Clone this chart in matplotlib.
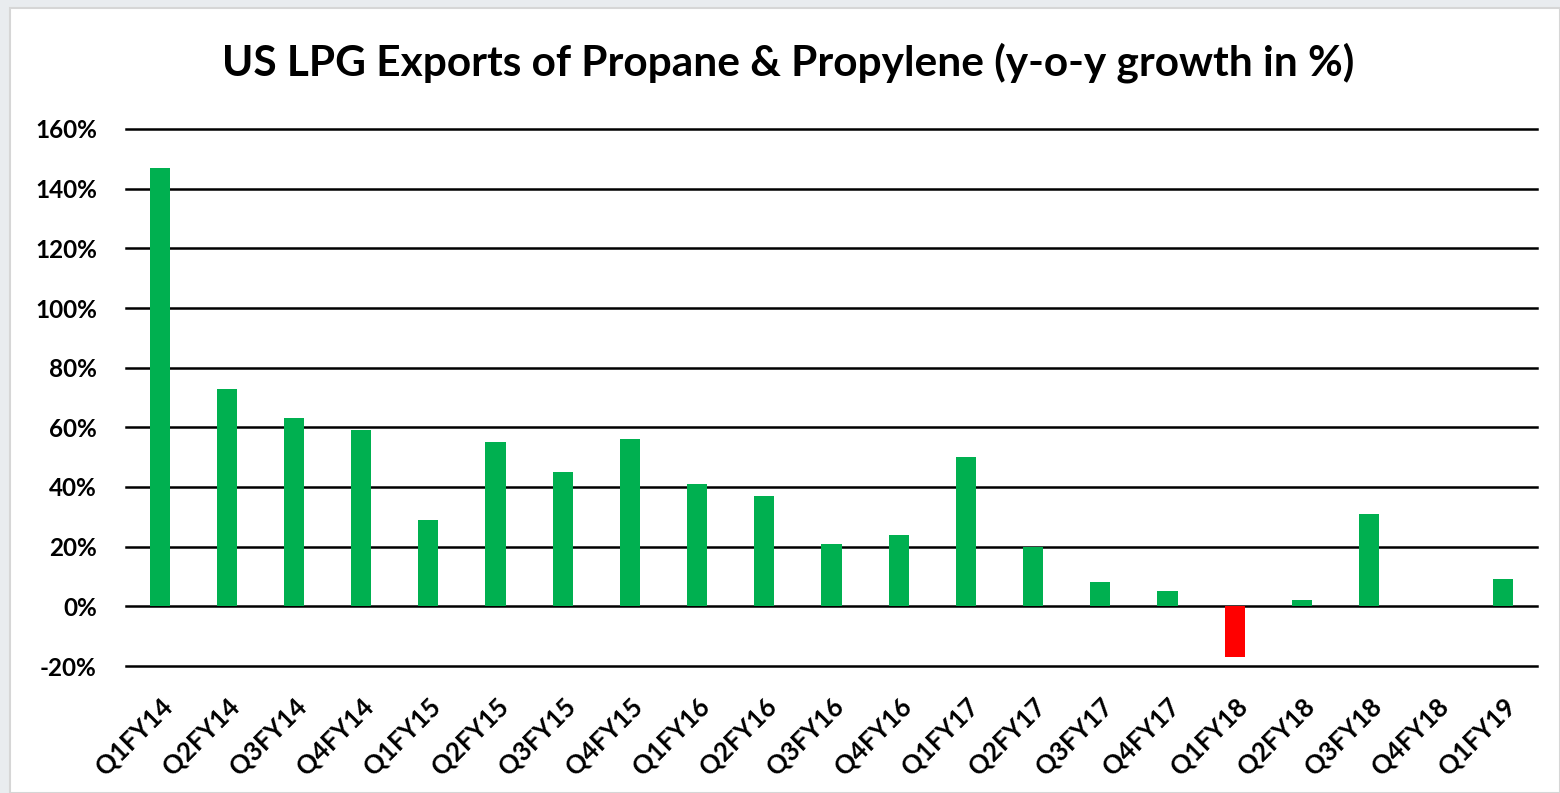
import matplotlib.pyplot as plt
import matplotlib.patches as mpatches
from matplotlib.ticker import FuncFormatter

quarters = ["Q1FY14", "Q2FY14", "Q3FY14", "Q4FY14", "Q1FY15", "Q2FY15", "Q3FY15",
            "Q4FY15", "Q1FY16", "Q2FY16", "Q3FY16", "Q4FY16", "Q1FY17", "Q2FY17",
            "Q3FY17", "Q4FY17", "Q1FY18", "Q2FY18", "Q3FY18", "Q4FY18", "Q1FY19"]
growth = [147, 73, 63, 59, 29, 55, 45, 56, 41, 37, 21, 24, 50, 20, 8, 5, -17, 2, 31, 0, 9]
yticks = [-20, 0, 20, 40, 60, 80, 100, 120, 140, 160]

plt.rcParams['font.family'] = ['Lato', 'DejaVu Sans']

fig = plt.figure(figsize=(15.6, 7.93), dpi=100)
fig.patch.set_facecolor("#e9ecef")
# white chart panel behind everything
panel = mpatches.Rectangle((10/1560, 0), 1 - 10/1560, 1 - 8/793, transform=fig.transFigure,
                           facecolor="white", edgecolor="#d6d6d6", linewidth=1.5, zorder=-10)
fig.patches.append(panel)

ax = fig.add_axes([126/1560, 1 - 666/793, (1537 - 126)/1560, (666 - 129)/793])
ax.set_facecolor("none")

colors = ["#00B050" if v >= 0 else "#FF0000" for v in growth]
x = range(len(quarters))
ax.bar(x, growth, width=0.3, color=colors, zorder=3)

ax.set_xlim(-0.5, len(quarters) - 0.5)
ax.set_ylim(-20, 160)
ax.set_yticks(yticks)
ax.yaxis.set_major_formatter(FuncFormatter(lambda v, p: f"{v:.0f}%"))
ax.grid(axis="y", color="black", linewidth=1.8, zorder=1)
for gl in ax.get_ygridlines():
    gl.set_clip_on(False)
ax.tick_params(axis="y", length=0, pad=21, labelsize=17.5)
ax.tick_params(axis="x", length=0, pad=20, labelsize=18.5)
for lab in ax.get_yticklabels():
    lab.set_fontweight("bold")

ax.set_xticks(list(x))
ax.set_xticklabels(quarters, rotation=45, ha="right", rotation_mode="anchor", fontweight="bold")

for s in ax.spines.values():
    s.set_visible(False)

fig.text(0.505, 1 - 63/793, "US LPG Exports of Propane & Propylene (y-o-y growth in %)",
         ha="center", va="center", fontsize=30.5, fontweight="bold")

fig.savefig("out.png", dpi=100, facecolor=fig.get_facecolor())
